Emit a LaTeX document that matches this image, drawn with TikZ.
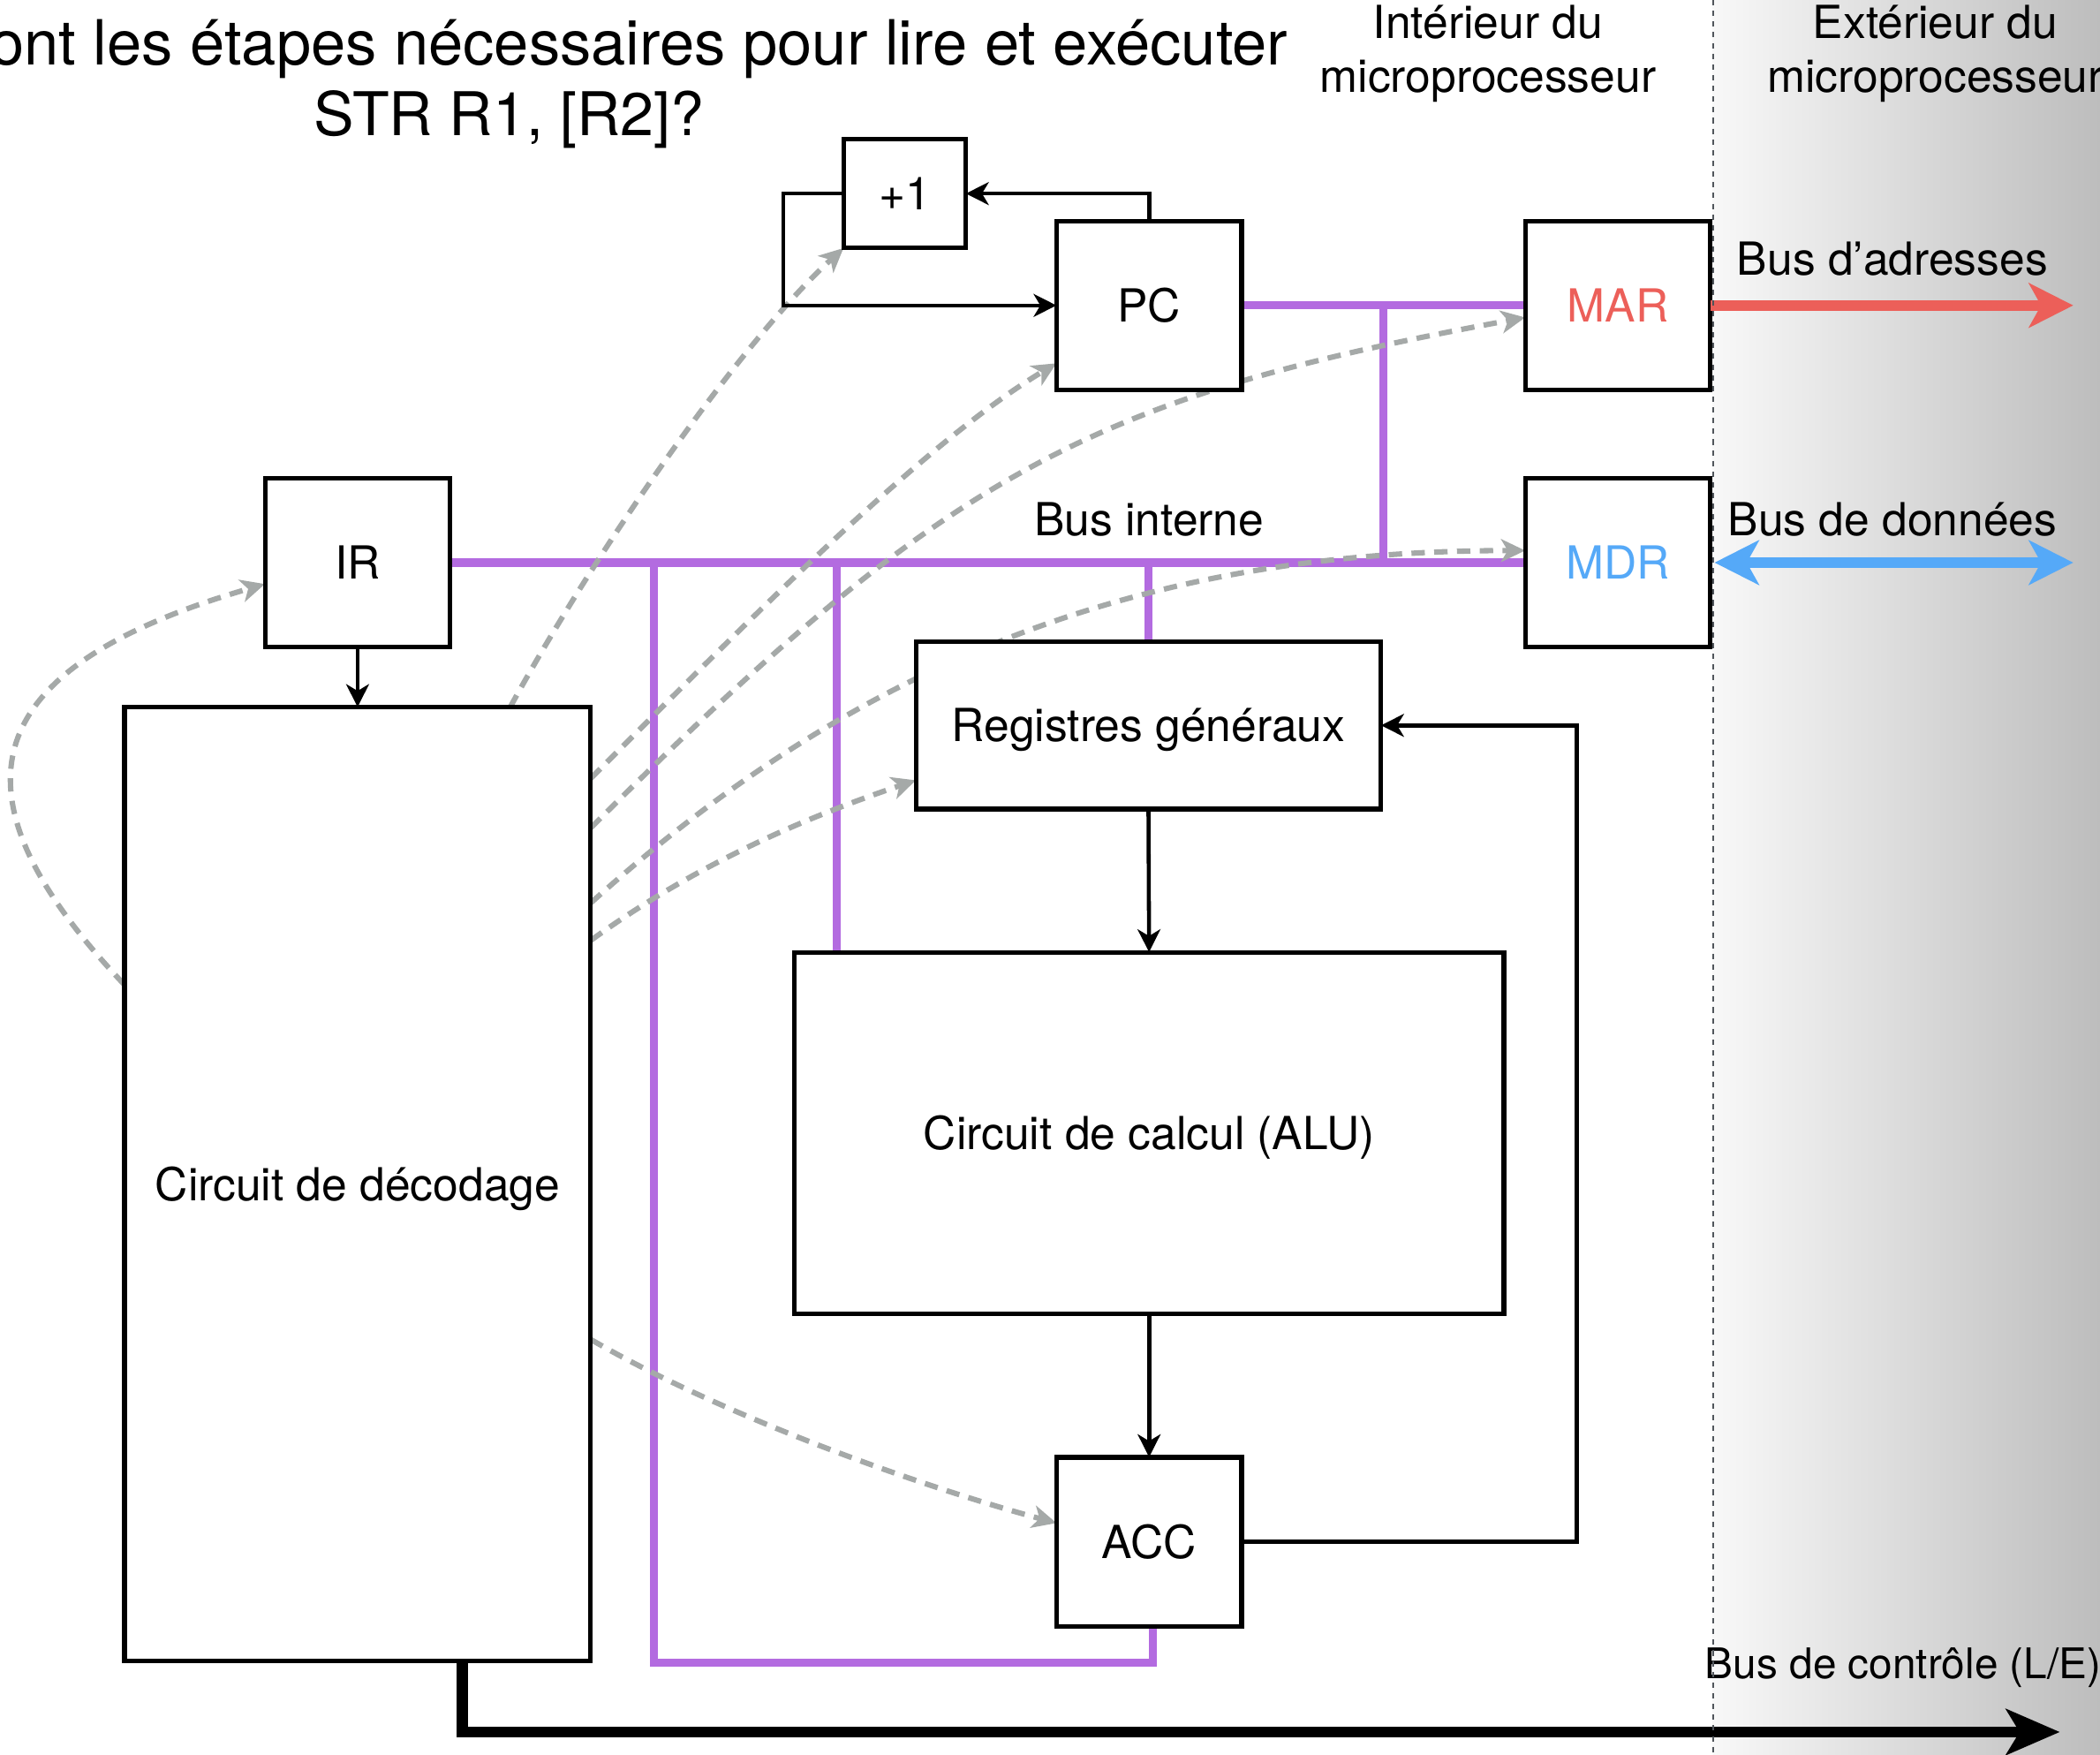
\documentclass[tikz,border=0pt]{standalone}
\usepackage{fontspec}
\setmainfont{TeX Gyre Heros}
\usetikzlibrary{arrows.meta,calc}

\definecolor{busviolet}{HTML}{B36BE0}
\definecolor{addrred}{HTML}{EC5F59}
\definecolor{datablue}{HTML}{55A9F8}
\definecolor{ctlgray}{HTML}{A5A9A8}
\definecolor{divgray}{HTML}{50555B}
\definecolor{outlight}{HTML}{F8F8F8}
\definecolor{outdark}{HTML}{BDBDBD}

\begin{document}
\begin{tikzpicture}[x=1pt,y=-1pt,
  txt/.style={inner sep=0pt,font=\fontsize{34}{40}\selectfont},
  box/.style={draw=black,line width=3.5pt,fill=white,inner sep=0pt,
              text height=24.5pt,text depth=0pt,
              font=\fontsize{34}{40}\selectfont},
  wire/.style={draw=black,line width=3pt,
               -{Stealth[length=17pt,width=17pt,inset=5pt]}},
  bus/.style={draw=busviolet,line width=6pt},
  ctl/.style={draw=ctlgray,line width=4pt,dash pattern=on 10pt off 7pt,
              -{Stealth[length=18pt,width=17pt,inset=5pt,fill=ctlgray]}},
  bigarrow/.style={line width=8pt},
]
\useasboundingbox (0,0) rectangle (1568,1310);
\clip (0,0) rectangle (1568,1310);

% outside of the processor: shaded band
\shade[left color=outlight,right color=outdark] (1279,0) rectangle (1568,1310);

% headings
\node[txt,font=\fontsize{46.5}{53}\selectfont,text height=33pt,text depth=0pt] (title) at (380,32)
  {Quelles sont les étapes nécessaires pour lire et exécuter};
\node[txt,font=\fontsize{45}{53}\selectfont,text height=32pt,text depth=0pt] (titleb) at (380,85)
  {STR R1, [R2]?};
\node[txt,align=center] (inside) at (1111,40) {Intérieur du\\microprocesseur};
\node[txt,align=center] (outside) at (1445,40) {Extérieur du\\microprocesseur};

% named positions of the units
\coordinate (plusoneC) at (675.5,144.5);
\coordinate (pcC) at (858,228);
\coordinate (marC) at (1208,228);
\coordinate (mdrC) at (1208,420);
\coordinate (irC) at (267,420);
\coordinate (decC) at (267,884);
\coordinate (regC) at (857.5,541.5);
\coordinate (aluC) at (858,846);
\coordinate (accC) at (858,1151);

% units (placed invisibly first so the buses can refer to them)
\begin{scope}[every node/.style={inner sep=0pt}]
\node[minimum width=91pt,minimum height=81pt] (plusone) at (plusoneC) {};
\node[minimum width=138pt,minimum height=126pt] (pc) at (pcC) {};
\node[minimum width=138pt,minimum height=126pt] (mar) at (marC) {};
\node[minimum width=138pt,minimum height=126pt] (mdr) at (mdrC) {};
\node[minimum width=138pt,minimum height=126pt] (ir) at (irC) {};
\node[minimum width=348pt,minimum height=712pt] (dec) at (decC) {};
\node[minimum width=347pt,minimum height=125pt] (reg) at (regC) {};
\node[minimum width=530pt,minimum height=270pt] (alu) at (aluC) {};
\node[minimum width=138pt,minimum height=126pt] (acc) at (accC) {};
\end{scope}

% internal buses
\draw[bus] (pc.east) -- (mar.west);
\coordinate (marTap) at ($(pc.east)!.5!(mar.west)$);
\draw[bus] (marTap) -- (marTap |- mdr.west);
\draw[bus] (ir.east) -- (mdr.west);
\draw[bus] (reg.north) -- (reg.north |- ir.east);
\coordinate (aluTap) at ([xshift=32pt]alu.north west);
\draw[bus] (aluTap) -- (aluTap |- ir.east);
\coordinate (loopCorner) at (488,1241);
\draw[bus] (loopCorner |- ir.east) -- (loopCorner) -| ([xshift=3pt]acc.south);
\node[txt] (businterne) at (858,388) {Bus interne};

% control signals from the decoder
\draw[ctl] ([yshift=149pt]dec.west) .. controls +(-133,-140) and +(-221,64) .. ([yshift=-16pt]ir.west);
\draw[ctl] ([xshift=114pt]dec.north) .. controls +(60,-110) and +(-80,73) .. (plusone.south west);
\draw[ctl] ([yshift=303pt]dec.east) .. controls +(120,-120) and +(-100,60) .. ([yshift=20pt]pc.south west);
\draw[ctl] ([yshift=266pt]dec.east) .. controls +(270,-270) and +(-320,59) .. ([yshift=-9pt]mar.west);
\draw[ctl] ([yshift=210pt]dec.east) .. controls +(200,-180) and +(-286,0) .. ([yshift=9pt]mdr.west);
\draw[ctl] ([yshift=182pt]dec.east) .. controls +(80,-58) and +(-80,27) .. ([yshift=-41pt]reg.west);
\draw[ctl] ([yshift=-116pt]dec.east) .. controls +(100,58) and +(-100,-27) .. ([yshift=14pt]acc.west);

% visible units
\node[box,minimum width=91pt,minimum height=81pt] at (plusoneC) {+1};
\node[box,minimum width=138pt,minimum height=126pt] at (pcC) {PC};
\node[box,minimum width=138pt,minimum height=126pt,text=addrred] at (marC) {MAR};
\node[box,minimum width=138pt,minimum height=126pt,text=datablue] at (mdrC) {MDR};
\node[box,minimum width=138pt,minimum height=126pt] at (irC) {IR};
\node[box,minimum width=348pt,minimum height=712pt] at (decC) {Circuit de décodage};
\node[box,minimum width=347pt,minimum height=125pt] at (regC) {Registres généraux};
\node[box,minimum width=530pt,minimum height=270pt] at (aluC) {Circuit de calcul (ALU)};
\node[box,minimum width=138pt,minimum height=126pt] at (accC) {ACC};

% data paths
\draw[wire] (pc.north) |- (plusone.east);
\draw[wire] (plusone.west) -- ++(-45,0) |- (pc.west);
\draw[wire] (ir.south) -- (dec.north);
\draw[wire] (reg.south) -- (alu.north);
\draw[wire] (alu.south) -- (acc.north);
\draw[wire] (acc.east) -- ++(250,0) |- (reg.east);

% external buses
\coordinate (addrEnd) at (1548,228);
\coordinate (dataEnd) at (1548,420);
\coordinate (ctrlEnd) at (1538,1293);
\draw[bigarrow,draw=addrred,-{Stealth[length=33pt,width=33pt,inset=9pt,fill=addrred]}]
  (mar.east) -- (addrEnd);
\draw[bigarrow,draw=datablue,{Stealth[length=33pt,width=33pt,inset=9pt,fill=datablue]}-{Stealth[length=33pt,width=33pt,inset=9pt,fill=datablue]}]
  ([xshift=3pt]mdr.east) -- (dataEnd);
\draw[line width=8.5pt,-{Stealth[length=40pt,width=34pt,inset=10pt]}]
  ([xshift=78pt]dec.south) |- (ctrlEnd);

\node[txt] (busadr) at (1413,193) {Bus d’adresses};
\node[txt] (busdon) at (1413,388) {Bus de données};
\node[txt,anchor=west,font=\fontsize{31.5}{38}\selectfont] (busctl) at (1273,1245) {Bus de contrôle (L/E)};

% boundary of the processor
\draw[divgray,line width=1.5pt,dash pattern=on 4pt off 4pt] (1279,0) -- (1279,1310);
\end{tikzpicture}
\end{document}
